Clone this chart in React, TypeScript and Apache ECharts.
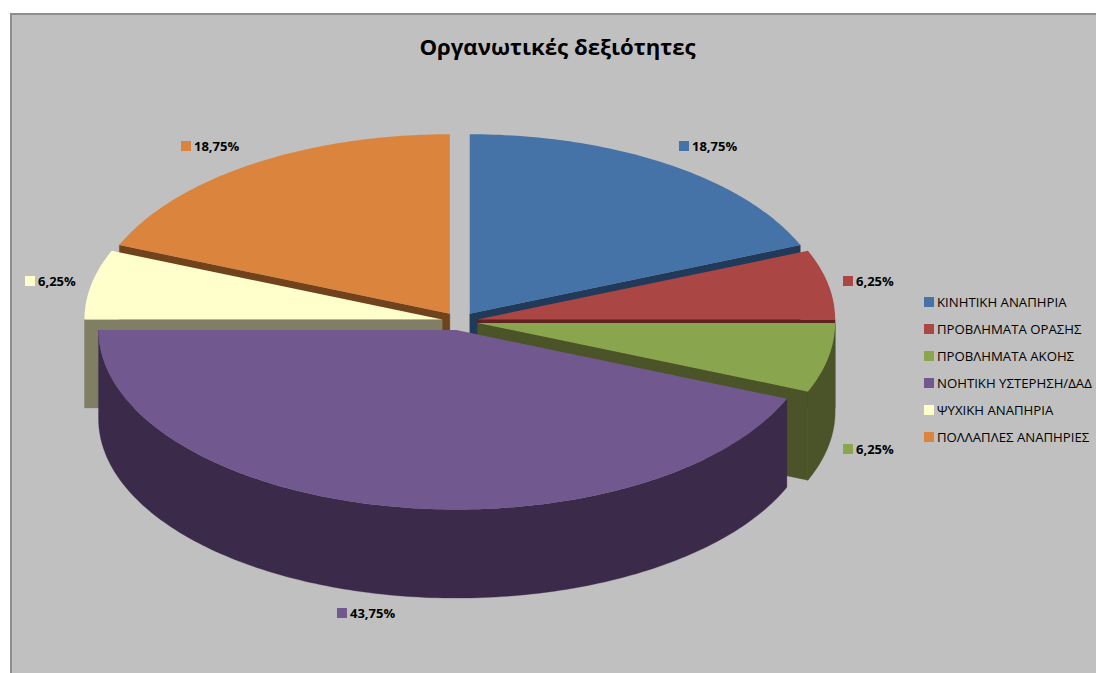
import React, { useEffect, useRef } from "react";
import * as echarts from "echarts";

const TITLE = "Οργανωτικές δεξιότητες";
const categories = [
  "ΚΙΝΗΤΙΚΗ ΑΝΑΠΗΡΙΑ",
  "ΠΡΟΒΛΗΜΑΤΑ ΟΡΑΣΗΣ",
  "ΠΡΟΒΛΗΜΑΤΑ ΑΚΟΗΣ",
  "ΝΟΗΤΙΚΗ ΥΣΤΕΡΗΣΗ/ΔΑΔ",
  "ΨΥΧΙΚΗ ΑΝΑΠΗΡΙΑ",
  "ΠΟΛΛΑΠΛΕΣ ΑΝΑΠΗΡΙΕΣ",
];
const values = [18.75, 6.25, 6.25, 43.75, 6.25, 18.75];

const topColors = ["#4572A7", "#AA4643", "#89A54E", "#71588F", "#FFFFCC", "#DB843D"];
const sideColors = ["#213A5A", "#5E2321", "#4A5428", "#3B2A4A", "#807F66", "#70431D"];
const paintOrder = [2, 4, 5, 6, 3, 1];
const labelSpots = [[679, 141], [843, 276], [843, 444], [337, 608], [25, 276], [181, 141]];

const FONT = "'Open Sans', 'Noto Sans', sans-serif";
const CX = 459.8, CY = 321.2, RX = 357.8, RY = 179.5, DEPTH = 88.6, EXPLODE = 0.05;
const total = values.reduce((a, b) => a + b, 0);
const deg = (v: number) => (v / total) * 2 * Math.PI;

function sliceStart(i: number) {
  return deg(values.slice(0, i).reduce((a, b) => a + b, 0));
}

function arc(ax: number, ay: number, a0: number, a1: number, dy = 0) {
  const n = Math.max(4, Math.ceil((a1 - a0) * 60));
  const pts: number[][] = [];
  for (let k = 0; k <= n; k++) {
    const t = a0 + ((a1 - a0) * k) / n;
    pts.push([ax + RX * Math.sin(t), ay - RY * Math.cos(t) + dy]);
  }
  return pts;
}

function makeRender(i: number) {
  return (_p: any, api: any) => {
    const a0 = sliceStart(i);
    const a1 = a0 + deg(api.value(0));
    const mid = (a0 + a1) / 2;
    const ax = CX + RX * EXPLODE * Math.sin(mid);
    const ay = CY - RY * EXPLODE * Math.cos(mid);
    const side = { fill: sideColors[i], stroke: sideColors[i], lineWidth: 0.3 };
    const children: any[] = [];
    const facePts = (t: number) => {
      const ex = ax + RX * Math.sin(t), ey = ay - RY * Math.cos(t);
      return [[ax, ay], [ex, ey], [ex, ey + DEPTH], [ax, ay + DEPTH]];
    };
    // radial cut faces that look toward the viewer
    if (Math.sin(a1) > 1e-6) children.push({ type: "polygon", shape: { points: facePts(a1) }, style: side });
    if (Math.sin(a0) < -1e-6) children.push({ type: "polygon", shape: { points: facePts(a0) }, style: side });
    // outer wall on the front half of the ellipse
    const w0 = Math.max(a0, Math.PI / 2), w1 = Math.min(a1, (3 * Math.PI) / 2);
    if (w1 > w0) {
      const top = arc(ax, ay, w0, w1);
      const bottom = arc(ax, ay, w0, w1, DEPTH).reverse();
      children.push({ type: "polygon", shape: { points: [...top, ...bottom] }, style: side });
    }
    children.push({
      type: "polygon",
      shape: { points: [[ax, ay], ...arc(ax, ay, a0, a1)] },
      style: { fill: topColors[i] },
    });
    return { type: "group", children };
  };
}

const pct = (v: number) => v.toFixed(2).replace(".", ",") + "%";

export default function App() {
  const ref = useRef<HTMLDivElement>(null);
  useEffect(() => {
    const chart = echarts.init(ref.current!, undefined, { renderer: "svg" });
    const labelEls: any[] = [];
    values.forEach((v, i) => {
      const [x, y] = labelSpots[i];
      labelEls.push({ type: "rect", shape: { x, y, width: 10, height: 10 }, style: { fill: topColors[i] }, z: 20 });
      labelEls.push({
        type: "text", x: x + 13, y: y + 5, z: 20,
        style: { text: pct(v), fill: "#000", font: `bold 13px ${FONT}`, verticalAlign: "middle" },
      });
    });
    chart.setOption({
      animation: false,
      backgroundColor: "#ffffff",
      title: {
        text: TITLE, left: 552.5, top: 30, textAlign: "center",
        textStyle: { fontFamily: FONT, fontWeight: "bold", fontSize: 22.2, color: "#000" },
      },
      legend: {
        orient: "vertical", left: 924, top: 295, itemWidth: 10, itemHeight: 10, itemGap: 13, padding: 0, icon: "rect",
        selectedMode: false, itemStyle: { borderWidth: 0 },
        textStyle: { fontFamily: FONT, fontSize: 13.2, color: "#000", lineHeight: 14, padding: [0, 0, 0, -2] },
        data: categories.map((name, i) => ({ name, itemStyle: { color: topColors[i] } })),
      },
      graphic: [
        { type: "rect", z: -10, shape: { x: 11, y: 14, width: 1100, height: 700 }, style: { fill: "#C0C0C0", stroke: "#8E8E8E", lineWidth: 2 } },
        ...labelEls,
      ],
      series: categories.map((name, i) => ({
        type: "custom", name, coordinateSystem: "none", z: paintOrder[i], silent: true,
        itemStyle: { color: topColors[i] },
        renderItem: makeRender(i),
        data: [[values[i]]],
      })),
    });
    return () => chart.dispose();
  }, []);
  return <div ref={ref} style={{ position: "fixed", left: 0, top: 0, width: 1096, height: 673 }} />;
}
